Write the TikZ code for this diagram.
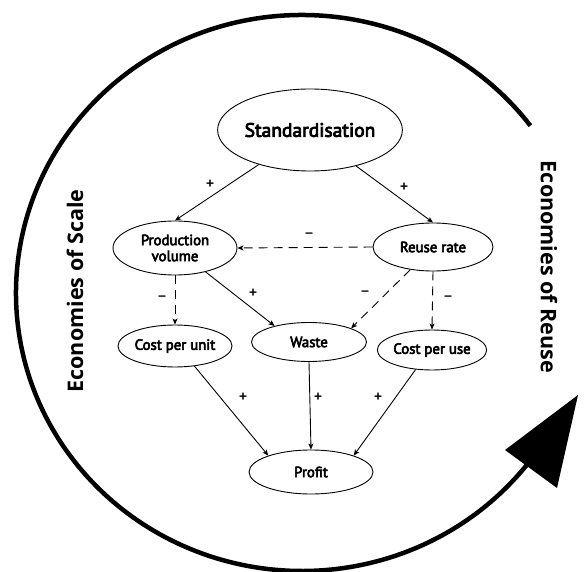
\documentclass[tikz,border=0pt]{standalone}
\usepackage{fontspec}
\setmainfont{PT Sans}
\newfontfamily\nodefont{PT Sans}[FakeBold=4]
\newfontfamily\signfont{PT Sans}[FakeBold=2]
\newfontfamily\loopfont{Open Sans}
\usetikzlibrary{shapes.geometric,arrows.meta,calc}

\begin{document}
\begin{tikzpicture}[x=1pt,y=-1pt,
  factor/.style={ellipse, draw, line width=0.9pt, inner sep=0pt, align=center,
    font=\nodefont\fontsize{14.8}{16}\selectfont},
  link/.style={line width=0.9pt, -{Stealth[length=6pt,width=5pt,inset=1.5pt]}},
  neglink/.style={link, dash pattern=on 9pt off 6pt},
  sign/.style={font=\signfont\fontsize{15}{15}\selectfont, inner sep=0pt},
  loopline/.style={line width=4.5pt},
  sidelabel/.style={font=\loopfont\bfseries\fontsize{21.5}{22}\selectfont, inner sep=0pt}]

\useasboundingbox (0,0) rectangle (584,572);

% feedback loop around the causal graph
\coordinate (ring) at (302,293);
\draw[loopline] ($(ring)+(37:286pt and 278pt)$)
  arc[start angle=37, end angle=323, x radius=286pt, y radius=278pt];
\fill (578,395) -- (505,450) -- (557,488) -- cycle;

% factors
\node[factor, minimum width=178pt, minimum height=82pt,
      font=\nodefont\fontsize{19.5}{21}\selectfont] (std) at (310,130) {Standardisation};
\node[factor, minimum width=124pt, minimum height=54pt] (pv) at (175,248) {Production\\volume};
\node[factor, minimum width=120pt, minimum height=48pt] (ru) at (433,247) {Reuse rate};
\node[factor, minimum width=104pt, minimum height=42pt] (cpu) at (175,346) {Cost per unit};
\node[factor, minimum width=115pt, minimum height=39pt] (waste) at (309,342) {Waste};
\node[factor, minimum width=104pt, minimum height=40pt] (cpuse) at (432,350) {Cost per use};
\node[factor, minimum width=124pt, minimum height=44pt] (profit) at (311,472) {Profit};

% causal links
\draw[link] (std.214.5) -- (pv.north);
\draw[link] (std.322.5) -- (ru.north);
\draw[neglink] (ru.west) -- (pv.east);
\draw[neglink] (pv.south) -- (cpu.north);
\draw[link] (pv.322) -- (waste.155);
\draw[neglink] (ru.225) -- (waste.18);
\draw[neglink] (ru.south) -- (cpuse.north);
\draw[link] (cpu.314) -- (profit.159);
\draw[link] (waste.south) -- (profit.north);
\draw[link] (cpuse.230) -- (profit.21);

% link polarities
\node[sign] (s1) at (210,184) {+};
\node[sign] (s2) at (404,187) {+};
\node[sign] (s3) at (309,235) {–};
\node[sign] (s4) at (162,298) {–};
\node[sign] (s5) at (253,293) {+};
\node[sign] (s6) at (365,293) {–};
\node[sign] (s7) at (448,298) {–};
\node[sign] (s8) at (243,397) {+};
\node[sign] (s9) at (318,397) {+};
\node[sign] (s10) at (378,397) {+};

% loop names
\node[sidelabel, rotate=90] (scale) at (75,291) {Economies of Scale};
\node[sidelabel, rotate=-90] (reuse) at (549,267) {Economies of Reuse};
\end{tikzpicture}
\end{document}
